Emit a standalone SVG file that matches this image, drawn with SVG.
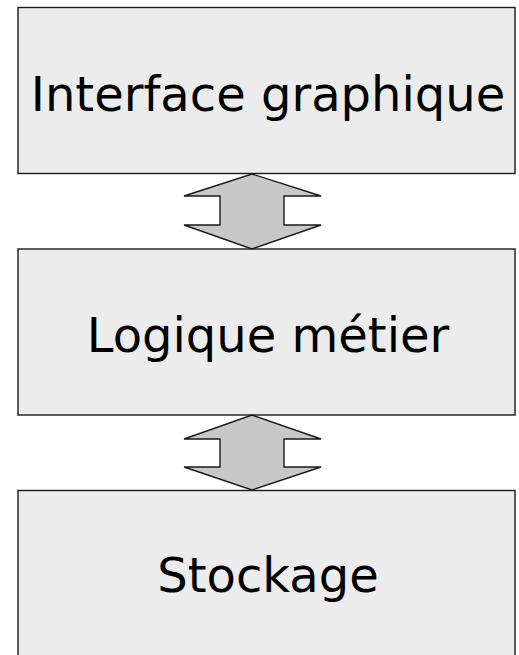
<svg xmlns="http://www.w3.org/2000/svg" width="519" height="655" viewBox="0 0 519 655">
  <style>
    .box { fill: #ececec; stroke: #1a1a1a; stroke-width: 1.4; }
    .label { font-family: "DejaVu Sans", Verdana, sans-serif; font-size: 48px; fill: #000; text-anchor: middle; }
    .link { fill: #c8c8c8; stroke: #1a1a1a; stroke-width: 1.4; stroke-linejoin: miter; }
  </style>
  <rect width="519" height="655" fill="#ffffff"/>

  <g id="interface">
    <rect class="box" x="18" y="7.5" width="497" height="166"/>
    <text class="label" x="268" y="110.5">Interface graphique</text>
  </g>

  <g id="logique">
    <rect class="box" x="18" y="249" width="497" height="166"/>
    <text class="label" x="268" y="352">Logique métier</text>
  </g>

  <g id="stockage">
    <rect class="box" x="18" y="490.5" width="497" height="180"/>
    <text class="label" x="268" y="592">Stockage</text>
  </g>

  <g id="connectors">
    <polygon class="link" points="252,174 321,196 284,196 284,225 321,225 252,249 184,225 220,225 220,196 184,196"/>
    <polygon class="link" points="252,415 321,439 284,439 284,467 321,467 252,490 184,467 220,467 220,439 184,439"/>
  </g>
</svg>
